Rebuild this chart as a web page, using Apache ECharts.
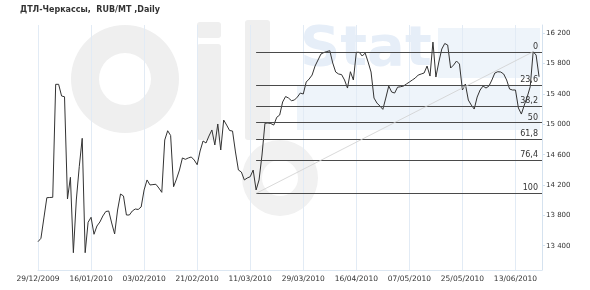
<!DOCTYPE html>
<html><head><meta charset="utf-8">
<script src="https://cdn.jsdelivr.net/npm/echarts@6/dist/echarts.min.js"></script>
<style>html,body{margin:0;padding:0;background:#fff}#c{width:590px;height:290px}</style>
</head><body><div id="c"></div>
<script>
const titleText = 'ДТЛ-Черкассы,  RUB/MT ,Daily';
const firstDate = '29/12/2009';
const skippedDates = ['01/05/2010', '02/05/2010', '03/05/2010', '12/06/2010'];
const prices = [
  13453, 13498, 13766, 14033, 14036, 14038, 15528, 15528, 15374, 15364,
  14016, 14302, 13308, 14003, 14442, 14816, 13308, 13709, 13775, 13551,
  13660, 13713, 13792, 13851, 13858, 13700, 13555, 13871, 14082, 14056,
  13805, 13805, 13858, 13884, 13878, 13911, 14135, 14267, 14201, 14206,
  14210, 14161, 14104, 14794, 14916, 14853, 14178, 14280, 14398, 14557,
  14539, 14557, 14570, 14530, 14468, 14649, 14781, 14754, 14846, 14926,
  14728, 15005, 14662, 15057, 14991, 14919, 14912, 14636, 14398, 14372,
  14267, 14293, 14310, 14398, 14135, 14267, 14596, 15014, 15018, 15011,
  14991, 15093, 15123, 15295, 15367, 15347, 15312, 15321, 15360, 15413,
  15400, 15558, 15598, 15650, 15769, 15848, 15927, 15947, 15960, 15971,
  15809, 15690, 15664, 15656, 15585, 15479, 15694, 15585, 15950, 15950,
  15901, 15940, 15822, 15690, 15347, 15281, 15242, 15198, 15347, 15505,
  15426, 15413, 15490, 15496, 15505, 15532, 15558, 15585, 15611, 15650,
  15664, 15677, 15769, 15637, 16085, 15624, 15822, 15993, 16066, 16046,
  15743, 15782, 15835, 15795, 15453, 15532, 15321, 15255, 15202, 15360,
  15453, 15505, 15479, 15505, 15585, 15677, 15694, 15690, 15664, 15585,
  15466, 15453, 15453, 15215, 15136, 15255, 15364, 15496, 15957, 15914,
  15628
];
const trailingEmptyDays = 1;
const yTickValues = [13400, 13800, 14200, 14600, 15000, 15400, 15800, 16200];
const fibLevels = [0, 23.6, 38.2, 50, 61.8, 76.4, 100];
const fibLowDate = '13/03/2010';
const fibLowValue = 14090;
const fibHighDate = '19/06/2010';
const fibHighValue = 15957;

function pad(n) { return (n < 10 ? '0' : '') + n; }
function fmtDate(d) { return pad(d.getUTCDate()) + '/' + pad(d.getUTCMonth() + 1) + '/' + d.getUTCFullYear(); }
const fp = firstDate.split('/').map(Number);
const categories = [];
let cur = new Date(Date.UTC(fp[2], fp[1] - 1, fp[0]));
while (categories.length < prices.length + trailingEmptyDays) {
  const s = fmtDate(cur);
  if (skippedDates.indexOf(s) < 0) categories.push(s);
  cur = new Date(cur.getTime() + 86400000);
}
const seriesData = prices.slice();
for (let k = 0; k < trailingEmptyDays; k++) seriesData.push(null);

const lowIdx = categories.indexOf(fibLowDate);
const highIdx = categories.indexOf(fibHighDate);
const lastIdx = categories.length - 1;

const markData = fibLevels.map(function (l) {
  const v = fibHighValue - (fibHighValue - fibLowValue) * l / 100;
  return [
    { coord: [lowIdx, v], label: { formatter: String(l).replace('.', ',') } },
    { coord: [lastIdx, v] }
  ];
});
markData.push([
  { coord: [lowIdx, fibLowValue], lineStyle: { color: '#cfcfcf', width: 0.8 }, label: { show: false } },
  { coord: [highIdx, fibHighValue] }
]);

const font = 'DejaVu Sans';
const chart = echarts.init(document.getElementById('c'), null, { renderer: 'canvas' });
chart.setOption({
  animation: false,
  backgroundColor: '#fff',
  title: {
    text: titleText, left: 15, top: 1,
    textStyle: { fontSize: 8, fontWeight: 'bold', color: '#333', fontFamily: font }
  },
  graphic: { elements: [
    { type: 'ring', shape: { cx: 125, cy: 79, r: 54, r0: 26 }, style: { fill: '#efefef' }, z: 0, silent: true },
    { type: 'rect', shape: { x: 197, y: 22, width: 24, height: 16, r: 3 }, style: { fill: '#efefef' }, silent: true },
    { type: 'rect', shape: { x: 197, y: 44, width: 24, height: 96, r: 3 }, style: { fill: '#efefef' }, silent: true },
    { type: 'rect', shape: { x: 245, y: 20, width: 25, height: 120, r: 3 }, style: { fill: '#efefef' }, silent: true },
    { type: 'ring', shape: { cx: 280, cy: 178, r: 38, r0: 18 }, style: { fill: '#f1f1f1' }, silent: true },
    { type: 'rect', shape: { x: 297, y: 85, width: 243, height: 45 }, style: { fill: '#eef4fa' }, silent: true },
    { type: 'rect', shape: { x: 438, y: 28, width: 102, height: 50 }, style: { fill: '#eef4fa' }, silent: true },
    { type: 'text', x: 300, y: 22, style: { text: 'Stat', fill: '#e6eef8', font: 'bold 56px "DejaVu Sans"' }, silent: true }
  ] },
  grid: { left: 38, right: 48, top: 25, bottom: 20 },
  xAxis: {
    type: 'category', data: categories, boundaryGap: false,
    axisLine: { show: true, lineStyle: { color: '#dce7f2' } },
    axisTick: { show: false },
    axisLabel: { interval: 17, fontSize: 7.5, color: '#333', fontFamily: font, margin: 5 },
    splitLine: { show: true, interval: 17, lineStyle: { color: '#e2ebf5', width: 1 } }
  },
  yAxis: {
    type: 'value', position: 'right', min: 13080, max: 16310,
    axisLine: { show: true, lineStyle: { color: '#d5e2ef' } },
    axisTick: { show: true, length: 3, customValues: yTickValues, lineStyle: { color: '#d5e2ef' } },
    axisLabel: {
      customValues: yTickValues, fontSize: 7, color: '#333', fontFamily: font, margin: 4,
      formatter: function (v) { return String(v).replace(/\B(?=(\d{3})+(?!\d))/g, ' '); }
    },
    splitLine: { show: false }
  },
  series: [{
    type: 'line', data: seriesData, showSymbol: false, silent: true,
    lineStyle: { color: '#333', width: 1 },
    markLine: {
      silent: true, symbol: ['none', 'none'], animation: false,
      lineStyle: { color: '#4a4a4a', width: 1, type: 'solid' },
      label: { position: 'insideEndTop', fontSize: 8, color: '#333', fontFamily: font, distance: [4, 1] },
      emphasis: { disabled: true },
      data: markData
    }
  }]
});
</script>
</body></html>
